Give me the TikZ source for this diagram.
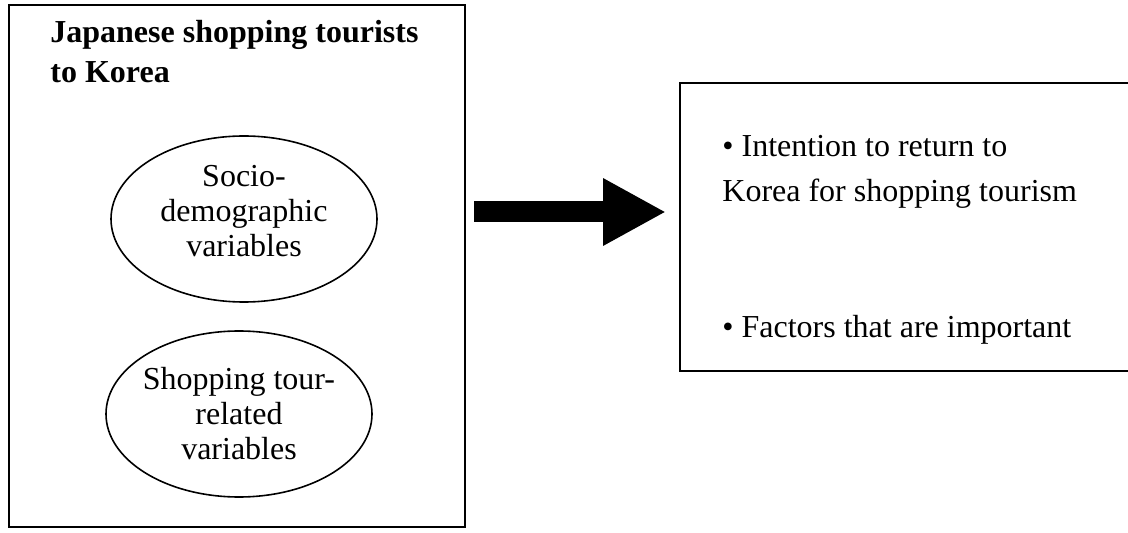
\documentclass[tikz,border=0pt]{standalone}
\usepackage{fontspec}
\setmainfont{Liberation Serif}
\usetikzlibrary{shapes.geometric,arrows.meta}

\begin{document}
\begin{tikzpicture}[x=0.5pt,y=-0.5pt,
    outerbox/.style={rectangle, draw, line width=1pt, inner sep=0pt},
    varellipse/.style={ellipse, draw, line width=0.8pt, inner sep=0pt,
    minimum width=133pt, minimum height=83pt},
    vartext/.style={inner sep=0pt, align=center,
    font=\fontsize{16}{17.5}\selectfont},
    bigarrow/.style={line width=10.5pt, -{Triangle[length=31.5pt,width=31.5pt]}},
    bulletline/.style={anchor=base west, inner sep=0pt,
    font=\fontsize{16}{19}\selectfont}]
    \clip (0,0) rectangle (1128,533);
    % left box with the two groups of variables
    \node[outerbox, anchor=north west, minimum width=228pt, minimum height=261pt] (tourists) at (8,4) {};
    \node[anchor=north west, inner sep=0pt, align=left,
        font=\fontsize{16}{20}\selectfont\bfseries] (title) at (50,20)
        {Japanese shopping tourists\\to Korea};
    \node[varellipse] (socio) at (244,219) {};
    \node[vartext] (sociotext) at ([yshift=4pt]socio.center) {Socio-\\demographic\\variables};
    \node[varellipse] (tour) at (239,414) {};
    \node[vartext] (tourtext) at (tour.center) {Shopping tour-\\related\\variables};
    % right box, runs past the edge
    \node[outerbox, anchor=north west, minimum width=240pt, minimum height=144pt] (outcome) at (679,82) {};
    \node[bulletline] (intent) at (722,157) {\textbullet\ Intention to return to};
    \node[bulletline] (korea) at (722,202) {Korea for shopping tourism};
    \node[bulletline] (factors) at (722,338) {\textbullet\ Factors that are important};
    % the big arrow
    \coordinate (tail) at (474,212);
    \coordinate (tip) at (666,212);
    \draw[bigarrow] (tail) -- (tip);
\end{tikzpicture}
\end{document}
